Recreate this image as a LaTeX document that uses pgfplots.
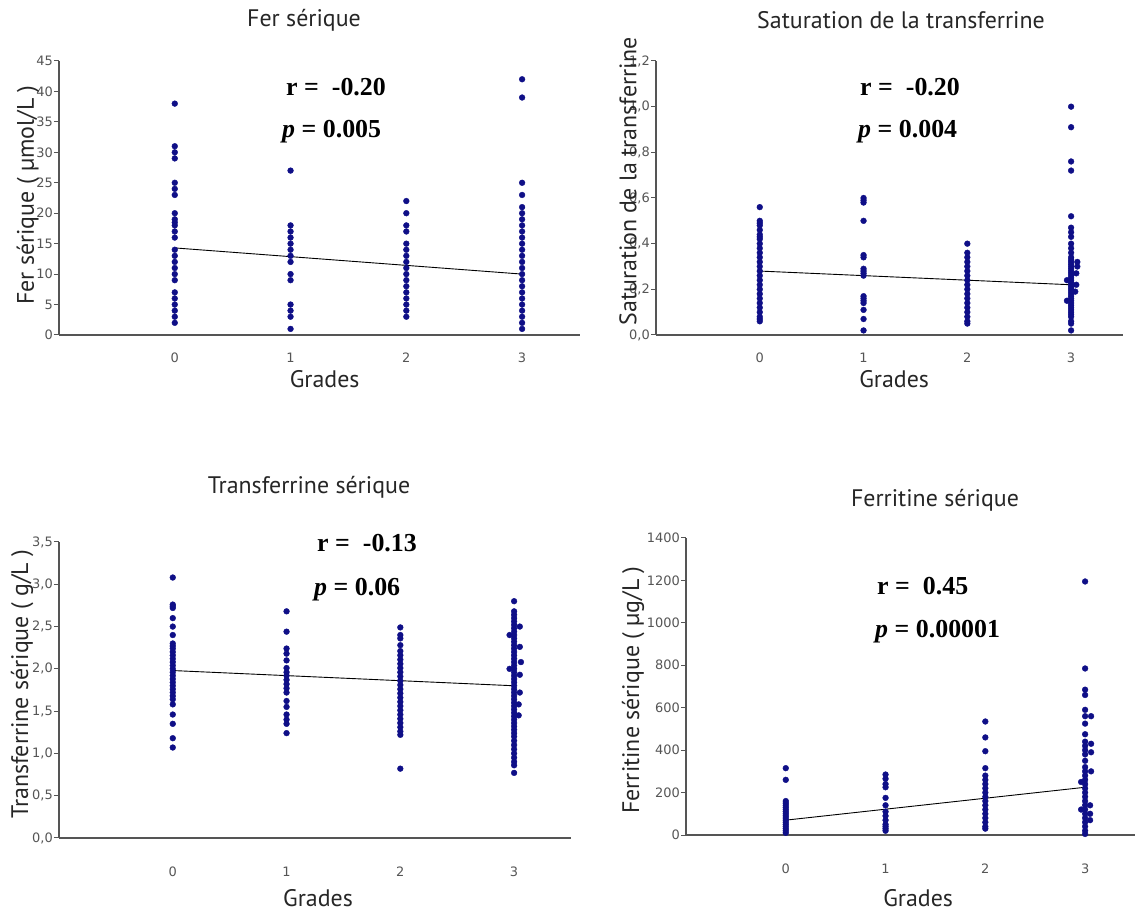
\documentclass[border=0pt]{standalone}
\usepackage{pgfplots}
\pgfplotsset{compat=1.18}
\usepackage{fontspec}
\setmainfont{PT Sans}
\newfontfamily\tickfont{DejaVu Sans}
\newfontfamily\annfont{Liberation Serif}
\definecolor{axiscol}{RGB}{85,85,85}
\definecolor{dotcol}{RGB}{15,15,135}
\pgfplotsset{
  myax/.style={
    scale only axis,
    axis lines*=left,
    xmin=-1, xmax=3.5,
    xtick={0,1,2,3},
    xticklabels={0,1,2,3},
    xtick style={draw=none},
    ytick style={draw=axiscol, line width=1bp},
    major tick length=5bp,
    tick align=outside,
    axis line style={draw=axiscol, line width=1.5bp},
    /pgf/number format/assume math mode=true,
    tick label style={font=\tickfont\fontsize{13}{15}\selectfont, text=axiscol},
    yticklabel style={inner sep=1bp},
    label style={font=\fontsize{24}{28}\selectfont, text=black!85},
    clip=false,
  },
  pts/.style={only marks, mark=*, mark size=2.9bp, color=dotcol},
  reg/.style={black, line width=0.9bp, no marks},
}
\begin{document}
\begin{tikzpicture}
\useasboundingbox (0,0) rectangle (1135bp,913bp);

% ---------- Fer serique ----------
\begin{axis}[myax, at={(59bp,578bp)}, anchor=south west, width=521bp, height=274bp,
  ymin=0, ymax=45, ytick={0,5,...,45},
  xticklabel style={anchor=center, yshift=-18bp},
  ylabel={Fer sérique ( µmol/L )},
  ylabel style={at={(axis description cs:-0.0595,0.51)}, anchor=center},
  xlabel={Grades},
  xlabel style={at={(axis description cs:0.51,-0.162)}, anchor=center}]
\addplot[pts] coordinates {
 (0,38) (0,31) (0,30) (0,29) (0,25) (0,24) (0,23) (0,20) (0,19) (0,18.5) (0,18) (0,17) (0,16)
 (0,14) (0,13) (0,12) (0,11) (0,10) (0,9) (0,7) (0,6) (0,5) (0,4) (0,3) (0,2)
 (1,27) (1,18) (1,17) (1,16) (1,15) (1,14) (1,13) (1,12) (1,10) (1,9) (1,5) (1,4) (1,3) (1,1)
 (2,22) (2,20) (2,18) (2,17) (2,15) (2,14) (2,13) (2,12) (2,11) (2,10) (2,9) (2,8) (2,7) (2,6) (2,5) (2,4) (2,3)
 (3,42) (3,39) (3,25) (3,23) (3,21) (3,20) (3,19) (3,18) (3,17) (3,16) (3,15) (3,14) (3,13) (3,12)
 (3,11) (3,10) (3,9) (3,8) (3,7) (3,6) (3,5) (3,4) (3,3) (3,2) (3,1)
};
\addplot[reg] coordinates {(0,14.3) (3,10.0)};
\end{axis}

% ---------- Saturation ----------
\begin{axis}[myax, at={(656bp,578bp)}, anchor=south west, width=467bp, height=274bp,
  ymin=0, ymax=1.2, ytick={0,0.2,0.4,0.6,0.8,1.0,1.2},
  yticklabels={{0,0},{0,2},{0,4},{0,6},{0,8},{1,0},{1,2}},
  xticklabel style={anchor=center, yshift=-18bp},
  ylabel={Saturation de la transferrine},
  ylabel style={at={(axis description cs:-0.06,0.56)}, anchor=center},
  xlabel={Grades},
  xlabel style={at={(axis description cs:0.51,-0.162)}, anchor=center}]
\addplot[pts] coordinates {
 (0,0.56) (0,0.50) (0,0.49) (0,0.48) (0,0.46) (0,0.44) (0,0.43) (0,0.42) (0,0.40) (0,0.38) (0,0.36)
 (0,0.34) (0,0.32) (0,0.30) (0,0.28) (0,0.26) (0,0.24) (0,0.22) (0,0.20) (0,0.18) (0,0.16) (0,0.14)
 (0,0.12) (0,0.10) (0,0.08) (0,0.07) (0,0.06)
 (1,0.60) (1,0.59) (1,0.58) (1,0.50) (1,0.35) (1,0.34) (1,0.29) (1,0.28) (1,0.27) (1,0.26)
 (1,0.17) (1,0.16) (1,0.15) (1,0.14) (1,0.11) (1,0.07) (1,0.02)
 (2,0.40) (2,0.36) (2,0.34) (2,0.32) (2,0.30) (2,0.28) (2,0.26) (2,0.24) (2,0.22) (2,0.20) (2,0.18)
 (2,0.16) (2,0.14) (2,0.12) (2,0.10) (2,0.08) (2,0.06) (2,0.05)
 (3,1.00) (3,0.91) (3,0.76) (3,0.72) (3,0.52) (3,0.47) (3,0.45) (3,0.43) (3,0.40) (3,0.38) (3,0.36)
 (3,0.34) (3,0.33) (3,0.32) (3,0.31) (3,0.30) (3,0.29) (3,0.28) (3,0.27) (3,0.26) (3,0.25) (3,0.24)
 (3,0.23) (3,0.22) (3,0.21) (3,0.20) (3,0.19) (3,0.18) (3,0.17) (3,0.16) (3,0.15) (3,0.14) (3,0.13)
 (3,0.12) (3,0.11) (3,0.10) (3,0.09) (3,0.08) (3,0.06) (3,0.05) (3,0.02)
 (3.06,0.32) (3.06,0.30) (3.05,0.27) (3.05,0.22) (3.04,0.19) (2.96,0.24) (2.96,0.15)
};
\addplot[reg] coordinates {(0,0.28) (3,0.22)};
\end{axis}

% ---------- Transferrine ----------
\begin{axis}[myax, at={(59bp,75bp)}, anchor=south west, width=512bp, height=296bp,
  ymin=0, ymax=3.5, ytick={0,0.5,1,1.5,2,2.5,3,3.5},
  yticklabels={{0,0},{0,5},{1,0},{1,5},{2,0},{2,5},{3,0},{3,5}},
  xticklabel style={anchor=center, yshift=-29bp},
  ylabel={Transferrine sérique ( g/L )},
  ylabel style={at={(axis description cs:-0.072,0.52)}, anchor=center},
  xlabel={Grades},
  xlabel style={at={(axis description cs:0.506,-0.203)}, anchor=center}]
\addplot[pts] coordinates {
 (0,3.08) (0,2.76) (0,2.74) (0,2.72) (0,2.60) (0,2.50) (0,2.40) (0,2.30) (0,2.27) (0,2.24) (0,2.20)
 (0,2.16) (0,2.12) (0,2.08) (0,2.04) (0,2.00) (0,1.96) (0,1.92) (0,1.88) (0,1.84) (0,1.80) (0,1.76)
 (0,1.72) (0,1.68) (0,1.64) (0,1.58) (0,1.46) (0,1.35) (0,1.18) (0,1.07)
 (1,2.68) (1,2.44) (1,2.24) (1,2.18) (1,2.10) (1,2.01) (1,1.96) (1,1.92) (1,1.87) (1,1.82) (1,1.77)
 (1,1.72) (1,1.62) (1,1.55) (1,1.46) (1,1.40) (1,1.35) (1,1.24)
 (2,2.49) (2,2.40) (2,2.36) (2,2.28) (2,2.21) (2,2.16) (2,2.11) (2,2.06) (2,2.01) (2,1.96) (2,1.91)
 (2,1.86) (2,1.81) (2,1.76) (2,1.71) (2,1.66) (2,1.61) (2,1.56) (2,1.51) (2,1.46) (2,1.41) (2,1.36)
 (2,1.31) (2,1.26) (2,1.22) (2,0.82)
 (3,2.80) (3,2.68) (3,2.64) (3,2.60) (3,2.56) (3,2.52) (3,2.48) (3,2.44) (3,2.40) (3,2.36) (3,2.32)
 (3,2.28) (3,2.24) (3,2.20) (3,2.16) (3,2.12) (3,2.08) (3,2.04) (3,2.00) (3,1.96) (3,1.92) (3,1.88)
 (3,1.84) (3,1.80) (3,1.76) (3,1.72) (3,1.68) (3,1.64) (3,1.60) (3,1.56) (3,1.52) (3,1.48) (3,1.44)
 (3,1.40) (3,1.36) (3,1.32) (3,1.28) (3,1.24) (3,1.20) (3,1.15) (3,1.10) (3,1.05) (3,1.00) (3,0.95)
 (3,0.90) (3,0.86) (3,0.77)
 (3.05,2.50) (3.05,2.26) (3.06,2.08) (3.05,1.93) (3.05,1.72) (3.04,1.58) (3.04,1.45) (2.96,2.40) (2.96,2.00)
};
\addplot[reg] coordinates {(0,1.98) (3,1.80)};
\end{axis}

% ---------- Ferritine ----------
\begin{axis}[myax, at={(686bp,78bp)}, anchor=south west, width=449bp, height=297bp,
  ymin=0, ymax=1400, ytick={0,200,...,1400},
  yticklabels={0,200,400,600,800,1000,1200,1400},
  xticklabel style={anchor=center, yshift=-29bp},
  ylabel={Ferritine sérique ( µg/L )},
  ylabel style={at={(axis description cs:-0.118,0.488)}, anchor=center},
  xlabel={Grades},
  xlabel style={at={(axis description cs:0.517,-0.212)}, anchor=center}]
\addplot[pts] coordinates {
 (0,315) (0,260) (0,160) (0,150) (0,140) (0,130) (0,120) (0,110) (0,100) (0,90) (0,80) (0,70)
 (0,60) (0,50) (0,40) (0,30) (0,20) (0,10)
 (1,285) (1,265) (1,240) (1,225) (1,175) (1,140) (1,110) (1,90) (1,70) (1,50) (1,40) (1,30) (1,20)
 (2,535) (2,460) (2,395) (2,315) (2,280) (2,260) (2,240) (2,220) (2,200) (2,180) (2,160) (2,140)
 (2,120) (2,100) (2,80) (2,60) (2,40) (2,30)
 (3,1195) (3,785) (3,685) (3,660) (3,590) (3,560) (3,525) (3,475) (3,440) (3,420) (3,400) (3,380)
 (3,350) (3,320) (3,300) (3,280) (3,260) (3,240) (3,220) (3,200) (3,180) (3,160) (3,140) (3,120)
 (3,100) (3,80) (3,60) (3,40) (3,20) (3,5)
 (3.06,560) (3.06,430) (3.06,390) (3.06,300) (3.05,140) (3.05,100) (3.05,70) (2.96,250) (2.96,120)
};
\addplot[reg] coordinates {(0,70) (3,225)};
\end{axis}

% ---------- titles ----------
\node[font=\fontsize{24}{28}\selectfont, text=black!85] at (304bp,893bp) {Fer sérique};
\node[font=\fontsize{24}{28}\selectfont, text=black!85] at (901bp,893bp) {Saturation de la transferrine};
\node[font=\fontsize{24}{28}\selectfont, text=black!85] at (309bp,426bp) {Transferrine sérique};
\node[font=\fontsize{24}{28}\selectfont, text=black!85] at (935bp,413bp) {Ferritine sérique};

% ---------- statistics ----------
\begin{scope}[every node/.style={anchor=west, inner sep=0pt, font=\annfont\fontsize{26}{30}\selectfont\bfseries}]
\node at (286bp,826bp) {r =\ \ -0.20};
\node at (282bp,781bp) {\textit{p} = 0.005};
\node at (860bp,826bp) {r =\ \ -0.20};
\node at (858bp,781bp) {\textit{p} = 0.004};
\node at (317bp,370bp) {r =\ \ -0.13};
\node at (314bp,323bp) {\textit{p} = 0.06};
\node at (877bp,327bp) {r =\ \ 0.45};
\node at (875bp,281bp) {\textit{p} = 0.00001};
\end{scope}
\end{tikzpicture}
\end{document}
